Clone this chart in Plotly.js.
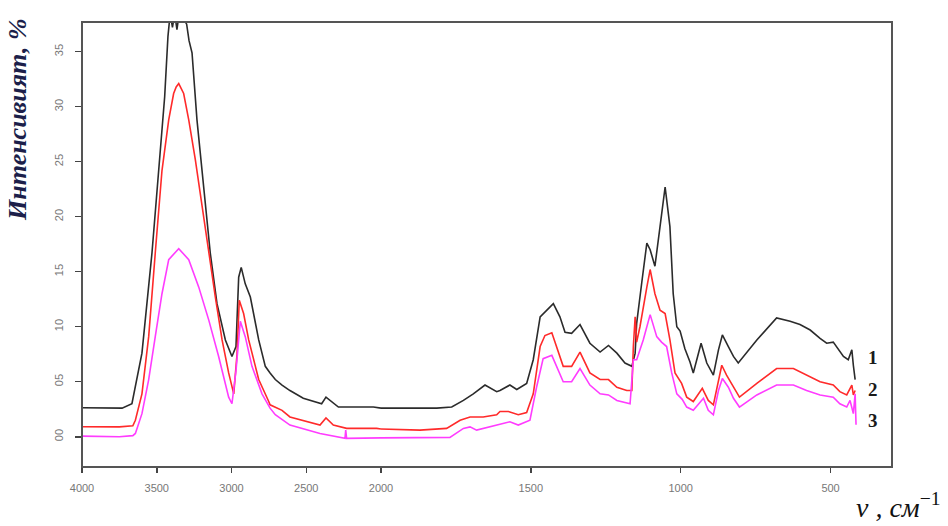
<!DOCTYPE html>
<html>
<head>
<meta charset="utf-8">
<script src="https://cdn.plot.ly/plotly-3.0.1.min.js"></script>
<style>html,body{margin:0;padding:0;background:#fff;}#chart{width:948px;height:526px;}</style>
</head>
<body>
<div id="chart"></div>
<script>
// Wavenumbers (cm^-1) and intensities (%) for the three spectra
const wn1 = [4000,3850,3732,3666,3599,3532,3465,3447,3425,3410,3395,3380,3365,3350,3330,3300,3284,3264,3231,3186,3142,3097,3041,2997,2970,2952,2935,2908,2874,2818,2774,2742,2707,2662,2609,2520,2397,2368,2330,2285,2051,2000,1814,1764,1725,1692,1653,1614,1603,1570,1547,1514,1492,1469,1447,1425,1403,1386,1364,1336,1303,1269,1241,1213,1186,1163,1152,1147,1130,1113,1102,1086,1069,1052,1036,1025,1013,1002,986,969,958,946,932,913,891,874,861,841,824,808,746,680,635,602,568,535,513,491,474,457,441,429,424,418];
const int1 = [2.64,2.6,2.6,3.0,7.6,16.7,27.9,30.9,36.4,38.5,37.2,38.5,37.0,38.5,38.2,37.5,36.0,34.9,28.8,22.7,16.7,12.1,8.8,7.3,8.2,14.5,15.4,13.9,12.7,8.8,6.4,5.8,5.2,4.7,4.2,3.5,3.0,3.6,3.2,2.7,2.7,2.6,2.6,2.7,3.3,3.9,4.7,4.1,4.2,4.7,4.3,4.85,7.0,10.9,11.5,12.1,10.9,9.5,9.4,10.2,8.5,7.7,8.3,7.6,6.7,6.4,7.6,10.3,14.0,17.6,17.0,15.5,19.1,22.7,19.1,13.0,10.0,9.6,8.0,6.8,5.8,7.1,8.5,6.7,5.6,7.9,9.25,8.2,7.3,6.7,8.8,10.8,10.5,10.2,9.7,8.95,8.5,8.6,7.9,7.3,7.0,7.9,6.5,5.2];

const wn2 = [4000,3750,3660,3643,3599,3554,3510,3465,3420,3387,3370,3353,3320,3286,3242,3197,3152,3108,3063,3019,2985,2963,2948,2919,2885,2818,2751,2742,2662,2609,2408,2368,2319,2230,2029,2000,1870,1781,1736,1703,1659,1614,1603,1575,1542,1514,1492,1469,1453,1430,1408,1392,1364,1336,1303,1269,1241,1213,1180,1163,1158,1152,1147,1136,1113,1102,1086,1069,1052,1036,1019,997,980,958,928,908,891,874,863,847,824,804,746,680,624,580,535,491,469,446,429,424,418];
const int2 = [0.91,0.9,1.0,1.5,3.9,9.1,16.7,24.2,28.8,31.2,31.8,32.1,31.2,28.8,25.2,20.9,16.7,12.7,8.8,5.8,3.9,7.5,12.4,11.2,8.8,5.2,3.2,2.9,2.4,1.8,1.06,1.7,1.06,0.76,0.76,0.7,0.6,0.76,1.5,1.8,1.8,2.0,2.3,2.3,2.0,2.2,3.9,8.2,9.2,9.45,7.6,6.4,6.4,7.7,5.8,5.2,5.2,4.5,4.2,4.2,8.2,10.9,8.6,10.0,13.6,15.2,13.0,11.5,11.2,8.8,5.8,4.85,3.6,3.2,4.4,3.3,2.9,5.2,6.5,5.6,4.5,3.6,4.85,6.2,6.2,5.6,5.0,4.7,4.1,3.8,4.7,3.8,4.2];

const wn3 = [4000,3750,3660,3643,3599,3554,3510,3465,3420,3353,3286,3219,3152,3086,3019,2997,2970,2941,2908,2863,2796,2742,2707,2662,2609,2408,2241,2236,2230,2000,1770,1725,1703,1681,1614,1570,1542,1503,1481,1459,1430,1408,1392,1364,1336,1303,1269,1241,1213,1169,1158,1147,1125,1102,1080,1064,1047,1030,1013,995,980,958,924,908,891,874,861,841,824,804,746,680,624,580,535,491,469,446,435,424,418,415];
const int3 = [0.06,0.0,0.1,0.3,2.1,5.2,9.1,13.0,16.1,17.1,16.1,13.6,10.6,7.3,3.6,3.0,6.0,10.5,9.1,6.4,3.9,2.6,2.0,1.6,1.06,0.3,-0.15,0.6,-0.15,-0.1,-0.06,0.76,0.9,0.6,1.06,1.36,1.06,1.5,4.5,7.1,7.4,6.1,5.0,5.0,6.2,4.7,3.9,3.8,3.3,3.0,7.0,7.0,8.8,11.1,9.1,8.6,8.2,5.8,3.9,3.4,2.7,2.4,3.5,2.4,2.0,4.2,5.3,4.5,3.5,2.7,3.8,4.7,4.7,4.2,3.8,3.6,3.0,2.7,3.3,2.1,3.9,1.1];

const seriesLabels = ['1','2','3'];
const xTicksHigh = [4000,3500,3000,2500,2000];
const xTicksLow = [1500,1000,500];
const yTickVals = [0,5,10,15,20,25,30,35];
const yTickText = ['00','05','10','15','20','25','30','35'];

const colors = ['#2b2b2b','#ff2a2a','#ff3cff'];
const all = [[wn1,int1],[wn2,int2],[wn3,int3]];
const BREAK = 2000;

const traces = [];
all.forEach(([w,v],i)=>{
  const hx=[],hy=[],lx=[],ly=[];
  w.forEach((x,k)=>{
    if(x>=BREAK){hx.push(x);hy.push(v[k]);}
    if(x<=BREAK){lx.push(x);ly.push(v[k]);}
  });
  traces.push({x:hx,y:hy,xaxis:'x',yaxis:'y',mode:'lines',line:{color:colors[i],width:1.6},showlegend:false,hoverinfo:'skip'});
  traces.push({x:lx,y:ly,xaxis:'x2',yaxis:'y',mode:'lines',line:{color:colors[i],width:1.6},showlegend:false,hoverinfo:'skip'});
});

const tickFont = {family:'Liberation Sans, Arial, sans-serif',size:11,color:'#777'};
const split = (381-82)/810;

const layout = {
  width:948,height:526,
  margin:{l:82,r:56,t:22,b:59},
  paper_bgcolor:'#fff',plot_bgcolor:'#fff',
  xaxis:{domain:[0,split],range:[4000,2000],tickmode:'array',tickvals:xTicksHigh,ticktext:xTicksHigh.map(String),
    ticks:'outside',ticklen:5,tickwidth:1.5,tickcolor:'#444',tickfont:tickFont,showgrid:false,zeroline:false,showline:false,ticklabelstandoff:6},
  xaxis2:{domain:[split,1],range:[2000,295],anchor:'y',tickmode:'array',tickvals:xTicksLow,ticktext:xTicksLow.map(String),
    ticks:'outside',ticklen:5,tickwidth:1.5,tickcolor:'#444',tickfont:tickFont,showgrid:false,zeroline:false,showline:false,ticklabelstandoff:6},
  yaxis:{range:[-2.75,37.7],tickmode:'array',tickvals:yTickVals,ticktext:yTickText,tickangle:-90,
    ticks:'outside',ticklen:6,tickwidth:1.5,tickcolor:'#444',tickfont:tickFont,showgrid:false,zeroline:false,showline:false,ticklabelstandoff:8},
  shapes:[{type:'rect',xref:'paper',yref:'paper',x0:0,x1:1,y0:0,y1:1,line:{color:'#555',width:2},fillcolor:'rgba(0,0,0,0)',layer:'above'}],
  annotations:[
    {xref:'paper',yref:'paper',x:-0.079,y:0.78,xanchor:'center',yanchor:'middle',text:'<b><i>Интенсивият, %</i></b>',textangle:-90,showarrow:false,
      font:{family:'Liberation Serif, Times New Roman, serif',size:26,color:'#1c1f4a'}},
    {xref:'paper',yref:'paper',x:1.008,y:-0.13,xanchor:'center',yanchor:'bottom',text:'<i>ν , см</i><sup>−1</sup>',showarrow:false,
      font:{family:'Liberation Serif, Times New Roman, serif',size:28,color:'#111'}},
    {xref:'x2',yref:'y',x:358,y:7.2,text:'<b>'+seriesLabels[0]+'</b>',showarrow:false,xanchor:'center',
      font:{family:'Liberation Serif, Times New Roman, serif',size:19,color:'#1a1a1a'}},
    {xref:'x2',yref:'y',x:358,y:4.3,text:'<b>'+seriesLabels[1]+'</b>',showarrow:false,xanchor:'center',
      font:{family:'Liberation Serif, Times New Roman, serif',size:19,color:'#1a1a1a'}},
    {xref:'x2',yref:'y',x:358,y:1.5,text:'<b>'+seriesLabels[2]+'</b>',showarrow:false,xanchor:'center',
      font:{family:'Liberation Serif, Times New Roman, serif',size:19,color:'#1a1a1a'}}
  ]
};

Plotly.newPlot('chart',traces,layout,{displayModeBar:false,staticPlot:true});
</script>
</body>
</html>
